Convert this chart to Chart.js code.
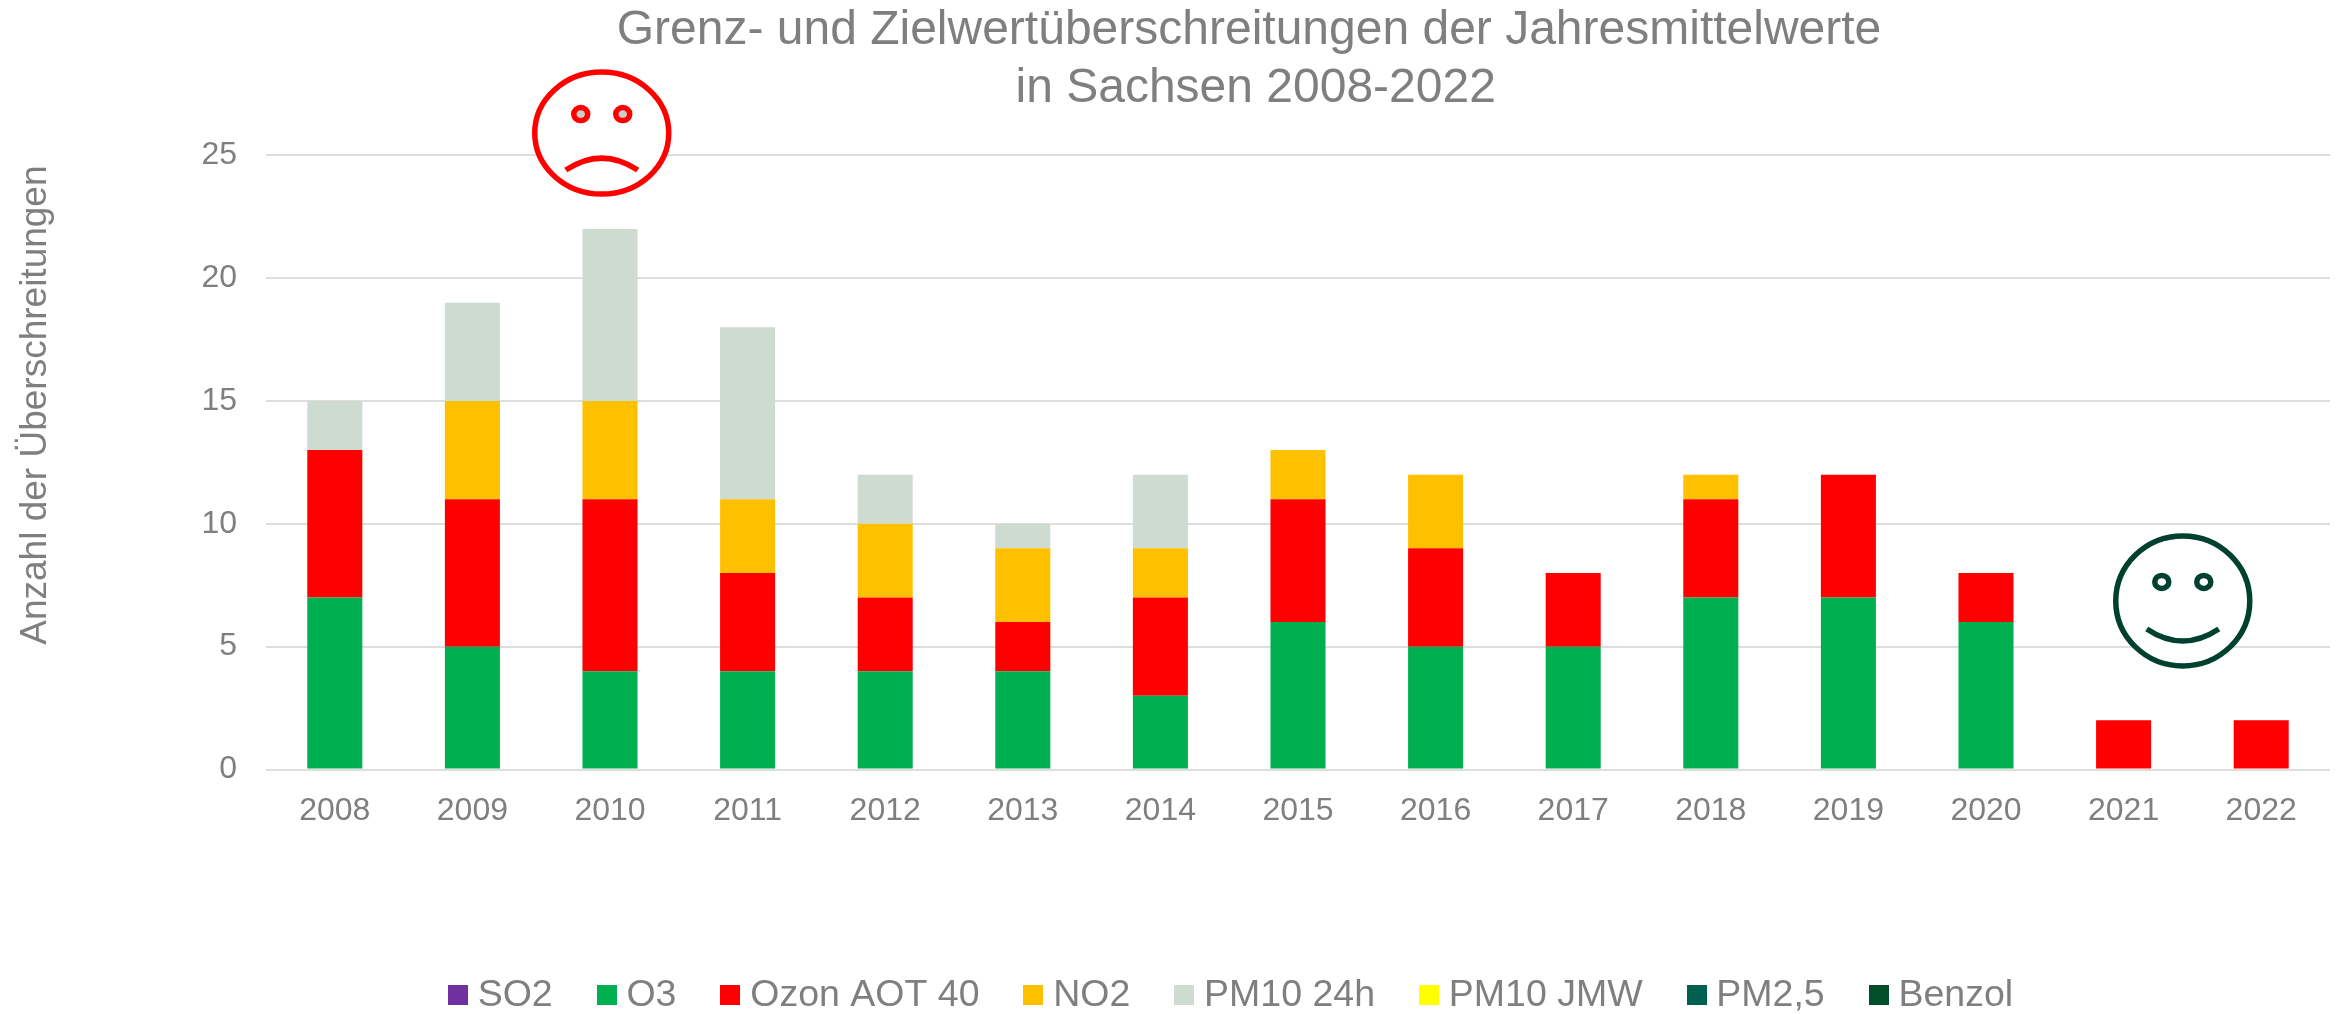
<!DOCTYPE html>
<html lang="de">
<head>
<meta charset="utf-8">
<title>Grenz- und Zielwertüberschreitungen</title>
<script src="https://cdn.jsdelivr.net/npm/chart.js@4/dist/chart.umd.min.js"></script>
<style>
  html, body { margin: 0; padding: 0; background: #fff; }
  canvas { display: block; }
</style>
</head>
<body>
<canvas id="chart" width="2344" height="1014"></canvas>
<script>
// ── Data ───────────────────────────────────────────────────
const years   = ["2008","2009","2010","2011","2012","2013","2014","2015","2016","2017","2018","2019","2020","2021","2022"];
const so2     = [0,0,0,0,0,0,0,0,0,0,0,0,0,0,0];
const o3      = [7,5,4,4,4,4,3,6,5,5,7,7,6,0,0];
const aot40   = [6,6,7,4,3,2,4,5,4,3,4,5,2,2,2];
const no2     = [0,4,4,3,3,3,2,2,3,0,1,0,0,0,0];
const pm10d   = [2,4,7,7,2,1,3,0,0,0,0,0,0,0,0];
const pm10y   = [0,0,0,0,0,0,0,0,0,0,0,0,0,0,0];
const pm25    = [0,0,0,0,0,0,0,0,0,0,0,0,0,0,0];
const benzol  = [0,0,0,0,0,0,0,0,0,0,0,0,0,0,0];
const titleLines = ["Grenz- und Zielwertüberschreitungen der Jahresmittelwerte", " in Sachsen 2008-2022"];

const GREY = "#7F7F7F";
const FONT = "'Liberation Sans', Arial, sans-serif";

// ── Plugins ────────────────────────────────────────────────
// title and legend are not centred on the canvas in the original
const shiftBoxes = {
  id: "shiftBoxes",
  afterLayout(chart) {
    chart.titleBlock.left += 77;
    chart.titleBlock.right += 77;
    chart.legend.left += 63;
    chart.legend.right += 63;
    chart.legend.top += 10;
    chart.legend.bottom += 10;
  },
};

function face(ctx, cx, cy, rx, ry, color, eyeFill, mouthDy, ctrlDy) {
  ctx.save();
  ctx.strokeStyle = color;
  ctx.lineWidth = 5.5;
  ctx.fillStyle = "#fff";
  ctx.beginPath();
  ctx.ellipse(cx, cy, rx, ry, 0, 0, Math.PI * 2);
  ctx.fill();
  ctx.stroke();
  ctx.fillStyle = eyeFill;
  [-21, 21].forEach(dx => {
    ctx.beginPath();
    ctx.ellipse(cx + dx, cy - 19, 7, 6.5, 0, 0, Math.PI * 2);
    ctx.fill();
    ctx.stroke();
  });
  ctx.beginPath();
  ctx.moveTo(cx - 36, cy + mouthDy);
  ctx.quadraticCurveTo(cx, cy + ctrlDy, cx + 36, cy + mouthDy);
  ctx.stroke();
  ctx.restore();
}

const faces = {
  id: "faces",
  afterDraw(chart) {
    const { x, y } = chart.scales;
    face(chart.ctx, x.getPixelForValue(1.94), y.getPixelForValue(25.9), 67, 61, "#FF0000", "#CCCCCC", 37, 13);
    face(chart.ctx, x.getPixelForValue(13.43), y.getPixelForValue(6.86), 67, 65, "#00402F", "#FFFFFF", 28, 52);
  },
};

// legend squares sit closer to their text than Chart.js allows with a plain box
function swatch(color) {
  const c = document.createElement("canvas");
  c.width = 20;
  c.height = 20;
  const g = c.getContext("2d");
  g.fillStyle = color;
  g.fillRect(0, 0, 20, 20);
  return c;
}

// ── Chart ──────────────────────────────────────────────────
const series = (label, data, color) => ({ label, data, backgroundColor: color, borderWidth: 0, barPercentage: 0.8, categoryPercentage: 0.5 });

new Chart(document.getElementById("chart"), {
  type: "bar",
  data: {
    labels: years,
    datasets: [
      series("SO2", so2, "#7030A0"),
      series("O3", o3, "#00B050"),
      series("Ozon AOT 40", aot40, "#FF0000"),
      series("NO2", no2, "#FFC000"),
      series("PM10 24h", pm10d, "#CEDBD1"),
      series("PM10 JMW", pm10y, "#FFFF00"),
      series("PM2,5", pm25, "#006050"),
      series("Benzol", benzol, "#004F2A"),
    ],
  },
  options: {
    responsive: false,
    animation: false,
    layout: { padding: { left: 14, right: 14, top: 0, bottom: 0 } },
    plugins: {
      tooltip: { enabled: false },
      title: {
        display: true,
        text: titleLines,
        color: GREY,
        font: { family: FONT, size: 48, weight: "normal", lineHeight: 1.2 },
        padding: { top: 2, bottom: 38 },
      },
      legend: {
        position: "bottom",
        labels: {
          color: GREY,
          font: { family: FONT, size: 37.5 },
          usePointStyle: true,
          pointStyleWidth: 2,
          padding: 53,
          generateLabels: chart => Chart.defaults.plugins.legend.labels.generateLabels(chart)
            .map(item => ({ ...item, pointStyle: swatch(item.fillStyle) })),
        },
      },
    },
    scales: {
      x: {
        stacked: true,
        grid: { display: false },
        border: { display: false },
        ticks: { color: GREY, font: { family: FONT, size: 32 }, padding: 14, maxRotation: 0 },
        afterFit(scale) { scale.height = 144; },
      },
      y: {
        stacked: true,
        min: 0,
        max: 25,
        grid: { color: "#DEDEDE", lineWidth: 2, drawTicks: false },
        border: { display: false },
        ticks: { stepSize: 5, color: GREY, font: { family: FONT, size: 32 }, padding: 29 },
        title: {
          display: true,
          text: "Anzahl der Überschreitungen\u00A0",
          align: "end",
          color: GREY,
          font: { family: FONT, size: 37 },
          padding: 0,
        },
        afterFit(scale) { scale.width = 252; },
      },
    },
  },
  plugins: [shiftBoxes, faces],
});
</script>
</body>
</html>
